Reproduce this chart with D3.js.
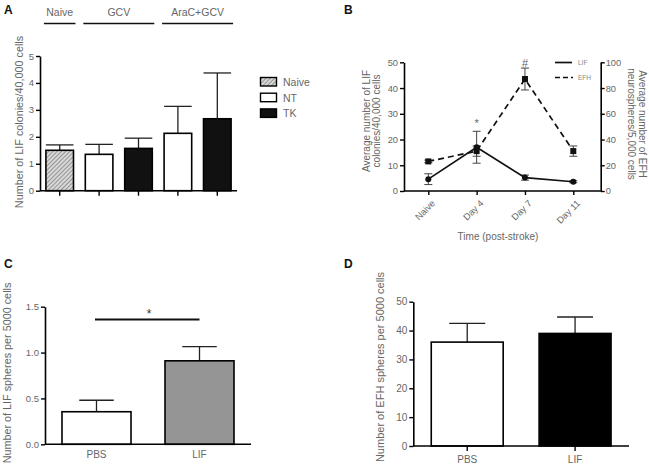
<!DOCTYPE html>
<html><head><meta charset="utf-8">
<script src="https://cdn.jsdelivr.net/npm/d3@7"></script>
<style>
body{margin:0;background:#fff;}
svg{display:block;font-family:"Liberation Sans",Arial,sans-serif;}
</style></head><body>
<svg id="c" width="649" height="475"></svg>
<script>
// ---- Panel A data
const aCats = ["Naive","GCV-NT","GCV-TK","AraC-NT","AraC-TK"];
const aTypes = ["Naive","NT","TK","NT","TK"];
const aValues = [1.5, 1.35, 1.57, 2.13, 2.67];
const aErrors = [0.2, 0.37, 0.38, 1.0, 1.7];
const aTicks = [0,1,2,3,4,5];
const aGroups = [{label:"Naive", from:0, to:0},{label:"GCV", from:1, to:2},{label:"AraC+GCV", from:3, to:4}];
const aLegend = ["Naive","NT","TK"];
// ---- Panel B data
const bDays = ["Naive","Day 4","Day 7","Day 11"];
const bLIF = [4.6, 17, 5.2, 3.6];
const bLIFerr = [2.1, 6.2, 1.0, 0.4];
const bEFH = [23, 31, 87, 31];
const bEFHerr = [1, 4, 8.5, 4];
const bLeftTicks = [0,10,20,30,40,50];
const bRightTicks = [0,20,40,60,80,100];
// ---- Panel C data
const cCats = ["PBS","LIF"];
const cValues = [0.355, 0.91];
const cErrors = [0.125, 0.155];
const cTicks = [0,0.5,1.0,1.5];
// ---- Panel D data
const dCats = ["PBS","LIF"];
const dValues = [36, 39];
const dErrors = [6.5, 5.7];
const dTicks = [0,10,20,30,40,50];

const TXT = "#666";
const svg = d3.select("#c");
const defs = svg.append("defs");
const pat = defs.append("pattern").attr("id","hatch").attr("patternUnits","userSpaceOnUse")
  .attr("width",3).attr("height",3).attr("patternTransform","rotate(45)");
pat.append("rect").attr("width",3).attr("height",3).attr("fill","#d8d8d8");
pat.append("line").attr("x1",0).attr("y1",0).attr("x2",0).attr("y2",3).attr("stroke","#777").attr("stroke-width",1.4);

const fillFor = t => t==="Naive" ? "url(#hatch)" : (t==="NT" ? "#fff" : (t==="TK" ? "#111" : t));

function styleAxis(g, fs){
  g.selectAll(".domain").attr("stroke","#000").attr("stroke-width",1.6);
  g.selectAll(".tick line").attr("stroke","#000").attr("stroke-width",1.4);
  g.selectAll(".tick text").attr("font-size",fs).attr("fill",TXT);
}
function panelLabel(t,x,y){
  svg.append("text").attr("x",x).attr("y",y).text(t).attr("font-weight","bold").attr("font-size",12).attr("fill","#111");
}
function barPanel(o){
  const g = svg.append("g");
  const x = d3.scaleBand().domain(o.cats).range(o.xr).paddingInner(o.pad).paddingOuter(o.pad/2);
  const y = d3.scaleLinear().domain(o.yd).range(o.yr);
  g.selectAll(".err").data(o.values).join("g").each(function(v,i){
    const cx = x(o.cats[i]) + x.bandwidth()/2;
    const s = d3.select(this);
    s.append("line").attr("x1",cx).attr("x2",cx).attr("y1",y(v)).attr("y2",y(v+o.errors[i])).attr("stroke","#222").attr("stroke-width",1.3);
    s.append("line").attr("x1",cx-x.bandwidth()*o.cap).attr("x2",cx+x.bandwidth()*o.cap).attr("y1",y(v+o.errors[i])).attr("y2",y(v+o.errors[i])).attr("stroke","#222").attr("stroke-width",1.3);
  });
  g.selectAll("rect.bar").data(o.values).join("rect").attr("class","bar")
    .attr("x",(d,i)=>x(o.cats[i])).attr("width",x.bandwidth())
    .attr("y",d=>y(d)).attr("height",d=>y(0)-y(d))
    .attr("fill",(d,i)=>fillFor(o.fills[i])).attr("stroke","#000").attr("stroke-width",1.6);
  const ya = g.append("g").attr("transform",`translate(${o.xr[0]},0)`)
    .call(d3.axisLeft(y).tickValues(o.ticks).tickSize(4).tickSizeOuter(0).tickPadding(2).tickFormat(o.fmt||d3.format("")));
  styleAxis(ya,o.tfs);
  const xa = g.append("g").attr("transform",`translate(0,${o.yr[0]})`)
    .call(d3.axisBottom(x).tickSize(o.xtick?5:0).tickSizeOuter(0).tickPadding(o.xtick?5:7).tickFormat((d,i)=>o.xlabels?o.xlabels[i]:""));
  styleAxis(xa,o.xfs);
  xa.select(".domain").attr("d",`M${o.xr[0]},0H${o.xr[1]}`);
  svg.append("text").attr("transform",`translate(${o.ylx},${o.yly}) rotate(-90)`).attr("text-anchor","middle")
    .attr("font-size",o.ylfs).attr("fill",TXT).text(o.ylabel);
  return {x,y,g};
}

// ---- Panel A
panelLabel("A",4,14);
const A = barPanel({cats:aCats, values:aValues, errors:aErrors, fills:aTypes, xr:[40,237], yd:[0,5], yr:[190.7,56],
  pad:0.3, cap:0.5, ticks:aTicks, tfs:9.5, xfs:10, xtick:true, ylabel:"Number of LIF colonies/40,000 cells", ylx:23, yly:122, ylfs:10.8});
aGroups.forEach(gr=>{
  const x0 = A.x(aCats[gr.from]) - 2, x1 = A.x(aCats[gr.to]) + A.x.bandwidth() + 2;
  svg.append("line").attr("x1",x0).attr("x2",x1).attr("y1",23.5).attr("y2",23.5).attr("stroke","#111").attr("stroke-width",1.6);
  svg.append("text").attr("x",(x0+x1)/2).attr("y",16).attr("text-anchor","middle").attr("font-size",10.5).attr("fill",TXT).text(gr.label);
});
const leg = svg.append("g");
aLegend.forEach((l,i)=>{
  leg.append("rect").attr("x",260.5).attr("y",77.5+i*15.7).attr("width",16).attr("height",8.5)
    .attr("fill",fillFor(l)).attr("stroke","#000").attr("stroke-width",1.4);
  leg.append("text").attr("x",283).attr("y",86+i*15.7).attr("font-size",10.5).attr("fill",TXT).text(l);
});

// ---- Panel B
panelLabel("B",344,14);
const bx = d3.scalePoint().domain(bDays).range([428.3,573.3]);
const byL = d3.scaleLinear().domain([0,50]).range([191,62.3]);
const byR = d3.scaleLinear().domain([0,100]).range([191,62.3]);
const B = svg.append("g");
const ls = B.append("g").attr("transform","translate(404,0)").call(d3.axisLeft(byL).tickValues(bLeftTicks).tickSize(4).tickSizeOuter(0).tickPadding(2));
styleAxis(ls,9.3);
const rs = B.append("g").attr("transform","translate(600.7,0)").call(d3.axisRight(byR).tickValues(bRightTicks).tickSize(4).tickSizeOuter(0).tickPadding(1));
styleAxis(rs,9.3);
const bxa = B.append("g").attr("transform","translate(0,191)").call(d3.axisBottom(bx).tickSize(4).tickSizeOuter(0));
styleAxis(bxa,9.3);
bxa.select(".domain").attr("d","M404,0H600.7");
bxa.selectAll(".tick text").attr("text-anchor","end").attr("transform","translate(0,2) rotate(-45)").attr("dx","-0.3em").attr("dy","0.6em");
svg.append("text").attr("x",498).attr("y",240).attr("text-anchor","middle").attr("font-size",10).attr("fill",TXT).text("Time (post-stroke)");
function bErr(vals, errs, ys){
  vals.forEach((v,i)=>{
    const cx = bx(bDays[i]);
    B.append("line").attr("x1",cx).attr("x2",cx).attr("y1",ys(v-errs[i])).attr("y2",ys(v+errs[i])).attr("stroke","#444").attr("stroke-width",1);
    [v-errs[i], v+errs[i]].forEach(e=>B.append("line").attr("x1",cx-4).attr("x2",cx+4).attr("y1",ys(e)).attr("y2",ys(e)).attr("stroke","#444").attr("stroke-width",1));
  });
}
bErr(bLIF,bLIFerr,byL);
bErr(bEFH,bEFHerr,byR);
B.append("path").datum(bEFH).attr("fill","none").attr("stroke","#111").attr("stroke-width",1.7).attr("stroke-dasharray","6,4")
  .attr("d",d3.line().x((d,i)=>bx(bDays[i])).y(d=>byR(d)));
B.append("path").datum(bLIF).attr("fill","none").attr("stroke","#111").attr("stroke-width",1.7)
  .attr("d",d3.line().x((d,i)=>bx(bDays[i])).y(d=>byL(d)));
B.selectAll("rect.sq").data(bEFH).join("rect").attr("class","sq")
  .attr("x",(d,i)=>bx(bDays[i])-3).attr("y",d=>byR(d)-3).attr("width",6).attr("height",6).attr("fill","#111");
B.selectAll("circle.dot").data(bLIF).join("circle").attr("class","dot")
  .attr("cx",(d,i)=>bx(bDays[i])).attr("cy",d=>byL(d)).attr("r",3).attr("fill","#111");
B.append("text").attr("x",bx("Day 4")).attr("y",127).attr("text-anchor","middle").attr("font-size",11).attr("fill",TXT).text("*");
B.append("text").attr("x",bx("Day 7")).attr("y",67).attr("text-anchor","middle").attr("font-size",11).attr("fill",TXT).text("#");
B.append("line").attr("x1",555).attr("x2",572).attr("y1",62.5).attr("y2",62.5).attr("stroke","#111").attr("stroke-width",1.7);
B.append("line").attr("x1",555).attr("x2",573).attr("y1",77.5).attr("y2",77.5).attr("stroke","#111").attr("stroke-width",1.7).attr("stroke-dasharray","5,3");
B.append("text").attr("x",578).attr("y",65).attr("font-size",6.5).attr("fill","#888").text("LIF");
B.append("text").attr("x",578).attr("y",80).attr("font-size",6.5).attr("fill","#888").text("EFH");
const lt = svg.append("text").attr("transform","translate(370,121) rotate(-90)").attr("text-anchor","middle").attr("font-size",10).attr("fill",TXT);
lt.append("tspan").attr("x",0).attr("dy",0).text("Average number of LIF");
lt.append("tspan").attr("x",0).attr("dy",10.2).text("colonies/40,000 cells");
const rt = svg.append("text").attr("transform","translate(638.5,124) rotate(90)").attr("text-anchor","middle").attr("font-size",10).attr("fill",TXT);
rt.append("tspan").attr("x",0).attr("dy",0).text("Average number of EFH");
rt.append("tspan").attr("x",0).attr("dy",10.2).text("neurospheres/5,000 cells");

// ---- Panel C
panelLabel("C",4,268);
const C = barPanel({cats:cCats, values:cValues, errors:cErrors, fills:["#fff","#959595"], xr:[45,251], yd:[0,1.5], yr:[444.3,306.7],
  pad:0.33, cap:0.25, ticks:cTicks, tfs:9.5, xfs:10, xtick:false, xlabels:cCats, fmt:d3.format(".1f"),
  ylabel:"Number of LIF spheres per 5000 cells", ylx:10.5, yly:373, ylfs:10.8});
svg.append("line").attr("x1",95).attr("x2",199.5).attr("y1",319.5).attr("y2",319.5).attr("stroke","#111").attr("stroke-width",2);
svg.append("text").attr("x",149).attr("y",318).attr("text-anchor","middle").attr("font-size",12).attr("fill","#333").text("*");

// ---- Panel D
panelLabel("D",344,268);
const D = barPanel({cats:dCats, values:dValues, errors:dErrors, fills:["#fff","#000"], xr:[413.3,629], yd:[0,50], yr:[446,301.7],
  pad:0.333, cap:0.25, ticks:dTicks, tfs:10, xfs:10, xtick:true, xlabels:dCats,
  ylabel:"Number of EFH spheres per 5000 cells", ylx:384, yly:367, ylfs:11});
</script>
</body></html>
